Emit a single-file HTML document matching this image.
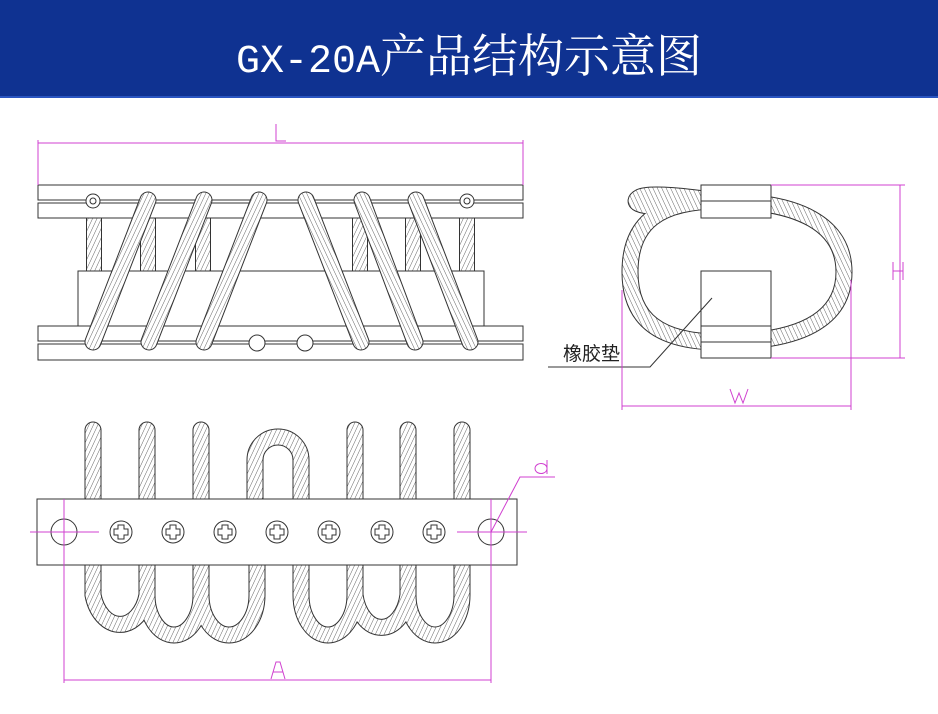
<!DOCTYPE html>
<html><head><meta charset="utf-8"><style>
html,body{margin:0;padding:0;background:#fff;}
#hdr{position:absolute;left:0;top:0;width:938px;height:96px;background:#0f3291;border-bottom:2px solid #2a55c0;}
#t{position:absolute;left:0;top:20px;width:938px;text-align:center;color:#fff;white-space:nowrap;}
#t .a{font-family:"Liberation Mono",monospace;font-size:40px;}
#t .b{font-family:"Liberation Serif","Noto Serif CJK SC",serif;font-size:46px;}
svg{position:absolute;left:0;top:0;}
</style></head><body>
<div id="hdr"></div>
<div id="t"><span class="a">GX-20A</span><span class="b">产品结构示意图</span></div>
<svg width="938" height="714" viewBox="0 0 938 714" xmlns="http://www.w3.org/2000/svg">
<defs>
<pattern id="s1" width="4" height="4" patternUnits="userSpaceOnUse" patternTransform="rotate(25)">
<rect width="4" height="4" fill="#fff"/><line x1="0" y1="0" x2="0" y2="4" stroke="#666" stroke-width="1"/></pattern>
<pattern id="s2" width="4" height="4" patternUnits="userSpaceOnUse" patternTransform="rotate(-25)">
<rect width="4" height="4" fill="#fff"/><line x1="0" y1="0" x2="0" y2="4" stroke="#666" stroke-width="1"/></pattern>
</defs>
<g fill="none" stroke="#333" stroke-width="1">
<g stroke-linecap="butt">
<g stroke-width="16" stroke="#333"><path d="M94 218V271M148 218V271M203 218V271M360 218V271M413 218V271M467 218V271"/></g>
<g stroke-width="14" stroke="url(#s1)"><path d="M94 218V271M148 218V271M203 218V271M360 218V271M413 218V271M467 218V271"/></g>
</g>
<rect x="78" y="271" width="406" height="55" fill="#fff"/>
<rect x="38" y="185" width="485" height="15" fill="#fff"/>
<rect x="38" y="203" width="485" height="15" fill="#fff"/>
<rect x="38" y="326" width="485" height="15" fill="#fff"/>
<rect x="38" y="344" width="485" height="16" fill="#fff"/>
<circle cx="257" cy="343" r="8" fill="#fff"/><circle cx="305" cy="343" r="8" fill="#fff"/>
<circle cx="93" cy="201" r="7" fill="#fff"/><circle cx="93" cy="201" r="3"/>
<circle cx="467" cy="201" r="7" fill="#fff"/><circle cx="467" cy="201" r="3"/>
<g stroke-linecap="round">
<g stroke-width="17" stroke="#333"><path d="M148 200L93 342M204 200L149 342M259 200L204 342M306 200L361 342M362 200L415 342M416 200L470 342"/></g>
<g stroke-width="15" stroke="url(#s1)"><path d="M148 200L93 342M204 200L149 342M259 200L204 342"/></g>
<g stroke-width="15" stroke="url(#s2)"><path d="M306 200L361 342M362 200L415 342M416 200L470 342"/></g>
</g>
<g stroke="#d040d0">
<path d="M38 143H523M38 140V185M523 140V185"/>
<path d="M276 124V141H286" />
</g>

<g stroke-linecap="round">
<g stroke-width="17" stroke="#333">
<path d="M93 430V520M147 430V520M201 430V520M355 430V520M408 430V520M462 430V520"/>
<path d="M255 520V460A23 23 0 0 1 301 460V520"/>
<path d="M93 560V595A28 40 0 0 0 147 595V560M147 560V595A27 40 0 0 0 201 595V560M201 560V595A28 40 0 0 0 257 595V560"/>
<path d="M301 560V595A27 40 0 0 0 355 595V560M355 560V595A27 40 0 0 0 408 595V560M408 560V595A27 40 0 0 0 462 595V560"/>
</g>
<g stroke-width="15" stroke="url(#s1)">
<path d="M93 430V520M147 430V520M201 430V520M355 430V520M408 430V520M462 430V520"/>
<path d="M255 520V460A23 23 0 0 1 301 460V520"/>
<path d="M93 560V595A28 40 0 0 0 147 595V560M147 560V595A27 40 0 0 0 201 595V560M201 560V595A28 40 0 0 0 257 595V560"/>
<path d="M301 560V595A27 40 0 0 0 355 595V560M355 560V595A27 40 0 0 0 408 595V560M408 560V595A27 40 0 0 0 462 595V560"/>
</g>
</g>
<rect x="37" y="499" width="480" height="66" fill="#fff"/>
<circle cx="64" cy="532" r="13" fill="#fff"/><circle cx="491" cy="532" r="13" fill="#fff"/>
<g id="sc"><circle cx="121" cy="532" r="11" fill="#fff"/><path d="M118 525h6v4h4v6h-4v4h-6v-4h-4v-6h4z" fill="#fff"/></g>
<use href="#sc" x="52"/><use href="#sc" x="104"/><use href="#sc" x="156"/><use href="#sc" x="208"/><use href="#sc" x="261"/><use href="#sc" x="313"/>
<g stroke="#d040d0">
<path d="M30 532H99M457 532H527"/>
<path d="M64 499V683M491 499V683M64 680H491"/>
<path d="M491 532L520 477H555"/>
<path d="M271 679L276 662H280L285 679M273 672H283"/>
<path d="M547 460V474M547 468A6 5 0 1 0 547 469"/>
</g>

<g stroke-linecap="round">
<path d="M720 201C800 201 844 225 844 272C844 320 800 342 720 342C660 342 630 320 630 272C630 222 660 201 720 201C690 197 650 192 640 197C630 202 640 207 660 206" stroke="#333" stroke-width="17"/>
<path d="M720 201C800 201 844 225 844 272C844 320 800 342 720 342C660 342 630 320 630 272C630 222 660 201 720 201C690 197 650 192 640 197C630 202 640 207 660 206" stroke="url(#s2)" stroke-width="15"/>
</g>
<rect x="701" y="185" width="70" height="33" fill="#fff"/><path d="M701 201H771"/>
<rect x="701" y="271" width="70" height="55" fill="#fff"/>
<rect x="701" y="326" width="70" height="32" fill="#fff"/><path d="M701 342H771"/>
<path d="M548 367H650L712 298"/>
<g stroke="#d040d0">
<path d="M771 185H905M771 358H905M900 185V358"/>
<path d="M622 290V410M851 280V410M622 406H851"/>
<path d="M893 262V280M903 262V280M893 271H903"/>
<path d="M730 389L735 403L739 393L743 403L748 389"/>
</g>
</g>
<text x="563" y="360" font-family="Liberation Sans,'Noto Sans CJK SC',sans-serif" font-size="19" fill="#222">橡胶垫</text>
</svg>
</body></html>
